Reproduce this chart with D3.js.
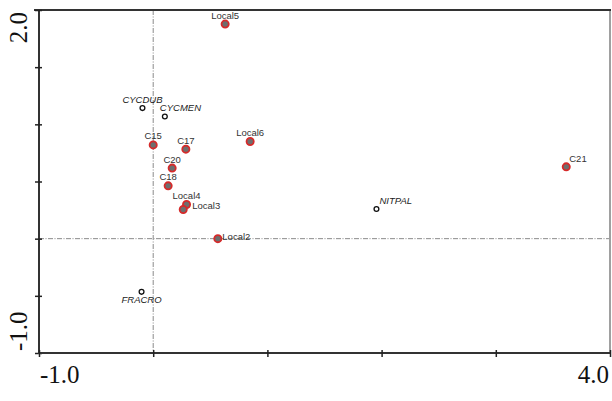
<!DOCTYPE html>
<html><head><meta charset="utf-8">
<script src="https://cdn.jsdelivr.net/npm/d3@7"></script>
<style>html,body{margin:0;padding:0;background:#fff}</style>
</head><body>
<svg id="c" width="612" height="401"></svg>
<script>
// Sites (filled red-edged markers)
const siteNames = ["Local5","C15","C17","Local6","C20","C18","Local4","Local3","Local2","C21"];
const siteX = [0.63, 0.0, 0.286, 0.849, 0.166, 0.131, 0.292, 0.263, 0.566, 3.617];
const siteY = [1.877, 0.82, 0.783, 0.85, 0.617, 0.462, 0.299, 0.255, 0.0, 0.628];
// Species (open markers)
const spNames = ["CYCDUB","CYCMEN","NITPAL","FRACRO"];
const spX = [-0.094, 0.102, 1.955, -0.102];
const spY = [1.142, 1.069, 0.26, -0.465];
// Axis
const xDomain = [-1.0, 4.0];
const yDomain = [-1.0, 2.0];
const xTicks = [-1, 0, 1, 2, 3, 4];
const yTicks = [-1, -0.5, 0, 0.5, 1, 1.5, 2];
const xTickLabels = ["-1.0", "4.0"];
const yTickLabels = ["-1.0", "2.0"];

// label placement (style)
const siteLabelPlace = {Local3:"right", Local2:"right2", C21:"upright"};
const spLabelPlace = {CYCDUB:"above", CYCMEN:"aboveright", NITPAL:"upright", FRACRO:"below"};

const svg = d3.select("#c");
const L = 39, R = 610, T = 10, B = 353;
const x = d3.scaleLinear().domain(xDomain).range([L, R]);
const y = d3.scaleLinear().domain(yDomain).range([B, T]);

// reference lines at zero
const refStyle = s => s.attr("stroke", "#8a8a8a").attr("stroke-width", 1).attr("stroke-dasharray", "5,1.5,1,1.5");
svg.append("line").attr("x1", L).attr("x2", R).attr("y1", y(0)).attr("y2", y(0)).call(refStyle);
svg.append("line").attr("x1", x(0)).attr("x2", x(0)).attr("y1", T).attr("y2", B).call(refStyle);

// frame
svg.append("line").attr("x1", R).attr("x2", R).attr("y1", T).attr("y2", B + 1).attr("stroke", "#a0a0a0").attr("stroke-width", 2);
svg.append("line").attr("x1", 34).attr("x2", R + 1).attr("y1", T).attr("y2", T).attr("stroke", "#333").attr("stroke-width", 2);

// axes with ticks crossing
const yAxis = d3.axisLeft(y).tickValues(yTicks).tickSize(4).tickFormat("");
const gy = svg.append("g").attr("transform", `translate(${L},0)`).call(yAxis);
gy.select(".domain").attr("stroke", "#333").attr("stroke-width", 2).attr("d", `M0,${T}V${B}`);
gy.selectAll(".tick line").attr("stroke", "#222").attr("stroke-width", 1.5).attr("x1", 3);

const xAxis = d3.axisBottom(x).tickValues(xTicks).tickSize(4).tickFormat("");
const gx = svg.append("g").attr("transform", `translate(0,${B})`).call(xAxis);
gx.select(".domain").attr("stroke", "#333").attr("stroke-width", 2).attr("d", `M${L - 1},0H${R + 1}`);
gx.selectAll(".tick line").attr("stroke", "#222").attr("stroke-width", 1.5).attr("y1", -3);

// tick labels (serif, large)
const serif = "'Liberation Serif','Times New Roman',serif";
svg.append("text").text(xTickLabels[0]).attr("x", x(xDomain[0]) + 1).attr("y", 383)
  .attr("font-family", serif).attr("font-size", 25).attr("fill", "#111");
svg.append("text").text(xTickLabels[1]).attr("x", x(xDomain[1]) - 1).attr("y", 383).attr("text-anchor", "end")
  .attr("font-family", serif).attr("font-size", 25).attr("fill", "#111");
svg.append("text").text(yTickLabels[0]).attr("transform", `translate(27,${y(yDomain[0]) - 2}) rotate(-90)`)
  .attr("font-family", serif).attr("font-size", 25).attr("fill", "#111");
svg.append("text").text(yTickLabels[1]).attr("transform", `translate(27,${y(yDomain[1]) + 2}) rotate(-90)`).attr("text-anchor", "end")
  .attr("font-family", serif).attr("font-size", 25).attr("fill", "#111");

const sans = "'Liberation Sans',Arial,sans-serif";
function place(sel, posMap, cx, cy) {
  sel.each(function(d, i) {
    const p = posMap[d] || "above";
    const px = cx(i), py = cy(i);
    const t = d3.select(this);
    if (p === "above") t.attr("x", px).attr("y", py - 5.5).attr("text-anchor", "middle");
    else if (p === "aboveright") t.attr("x", px - 5).attr("y", py - 5).attr("text-anchor", "start");
    else if (p === "right") t.attr("x", px + 9).attr("y", py - 0.5).attr("text-anchor", "start");
    else if (p === "right2") t.attr("x", px + 4.5).attr("y", py + 1).attr("text-anchor", "start");
    else if (p === "upright") t.attr("x", px + 3).attr("y", py - 5).attr("text-anchor", "start");
    else if (p === "below") t.attr("x", px).attr("y", py + 11.6).attr("text-anchor", "middle");
  });
}

// species
const sp = svg.append("g");
sp.selectAll("circle").data(spNames).join("circle")
  .attr("cx", (d, i) => x(spX[i])).attr("cy", (d, i) => y(spY[i])).attr("r", 2.4)
  .attr("fill", "#fff").attr("stroke", "#111").attr("stroke-width", 1.3);
sp.selectAll("text").data(spNames).join("text").text(d => d)
  .attr("font-family", sans).attr("font-size", 9.5).attr("font-style", "italic").attr("fill", "#222")
  .call(place, spLabelPlace, i => x(spX[i]), i => y(spY[i]));

// sites
const st = svg.append("g");
st.selectAll("circle").data(siteNames).join("circle")
  .attr("cx", (d, i) => x(siteX[i])).attr("cy", (d, i) => y(siteY[i])).attr("r", 3.6)
  .attr("fill", "#6e6e6e").attr("stroke", "#d62a2a").attr("stroke-width", 1.8);
st.selectAll("text").data(siteNames).join("text").text(d => d)
  .attr("font-family", sans).attr("font-size", 9.5).attr("fill", "#333")
  .call(place, siteLabelPlace, i => x(siteX[i]), i => y(siteY[i]));
</script>
</body></html>
